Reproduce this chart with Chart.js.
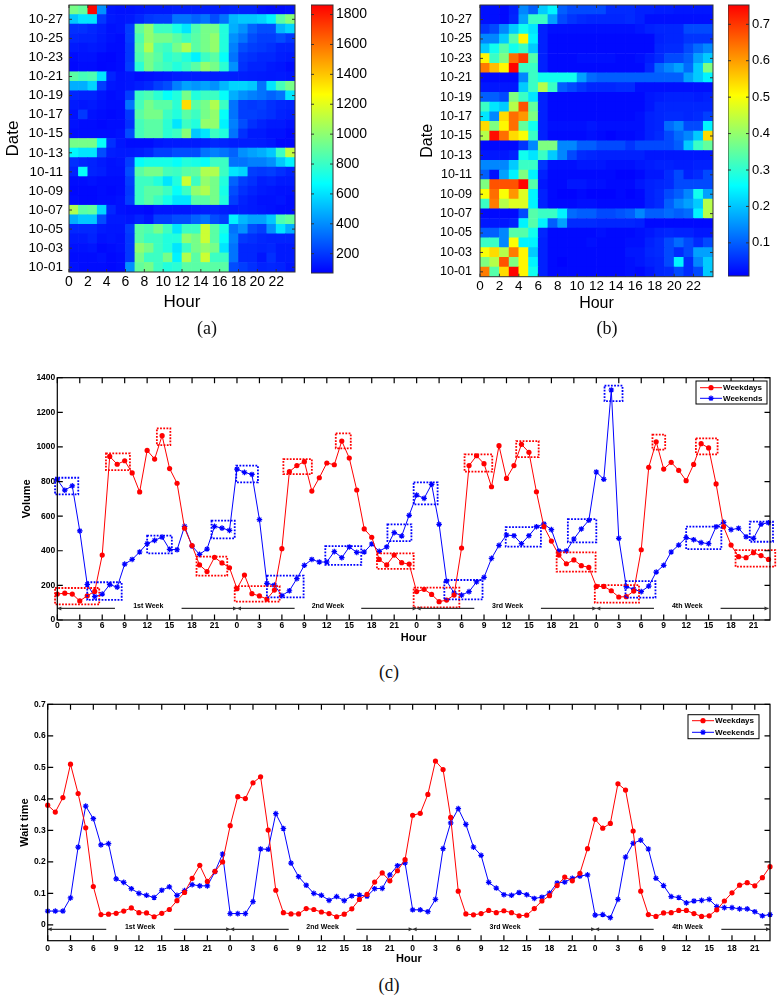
<!DOCTYPE html>
<html>
<head>
<meta charset="utf-8">
<title>Volume and wait time by hour</title>
<script src="https://cdn.jsdelivr.net/npm/chart.js"></script>
<style>
  html, body { margin: 0; padding: 0; background: #fff; }
  body { width: 778px; height: 1000px; position: relative; overflow: hidden; }
  .box { position: absolute; }
  .cap { position: absolute; transform: translate(-50%, -50%); font-family: "Liberation Serif", "DejaVu Serif", serif; font-size: 18px; color: #111; }
</style>
</head>
<body>
<div class="box" style="left:0;top:0;width:305px;height:318px"><canvas id="heat-volume"></canvas></div>
<div class="box" style="left:311px;top:0;width:70px;height:318px"><canvas id="bar-volume"></canvas></div>
<div class="box" style="left:414px;top:0;width:305px;height:320px"><canvas id="heat-wait"></canvas></div>
<div class="box" style="left:728px;top:0;width:50px;height:320px"><canvas id="bar-wait"></canvas></div>
<div class="box" style="left:0;top:365px;width:778px;height:285px"><canvas id="line-volume"></canvas></div>
<div class="box" style="left:0;top:690px;width:778px;height:280px"><canvas id="line-wait"></canvas></div>
<div class="cap" style="left:207px;top:328px">(a)</div>
<div class="cap" style="left:607px;top:328px">(b)</div>
<div class="cap" style="left:389px;top:672px">(c)</div>
<div class="cap" style="left:389px;top:985px">(d)</div>

<script>
const FONT = "'Liberation Sans', Arial, Helvetica, sans-serif";
Chart.defaults.font.family = FONT;
Chart.defaults.color = "#000";

// ---- heatmap data (rows 10-01 .. 10-28, columns hour 0..23) ----
const dates = ["10-01", "10-02", "10-03", "10-04", "10-05", "10-06", "10-07",
  "10-08", "10-09", "10-10", "10-11", "10-12", "10-13", "10-14",
  "10-15", "10-16", "10-17", "10-18", "10-19", "10-20", "10-21",
  "10-22", "10-23", "10-24", "10-25", "10-26", "10-27", "10-28"];
const hours = [0, 1, 2, 3, 4, 5, 6, 7, 8, 9, 10, 11, 12, 13, 14, 15, 16, 17, 18, 19, 20, 21, 22, 23];

const volumeByDay = [
  [110, 100, 100, 100, 90, 100, 410, 900, 945, 810, 745, 770, 880, 880, 880, 880, 880, 250, 215, 180, 150, 160, 150, 120],
  [100, 100, 100, 110, 90, 100, 200, 945, 810, 810, 945, 640, 1080, 880, 1145, 810, 810, 340, 160, 160, 120, 180, 130, 130],
  [110, 110, 120, 90, 100, 110, 200, 1010, 945, 810, 745, 610, 810, 945, 1010, 945, 610, 340, 160, 160, 150, 160, 130, 130],
  [130, 130, 150, 110, 120, 110, 200, 880, 810, 810, 745, 745, 1010, 945, 1145, 880, 680, 370, 200, 180, 160, 150, 150, 150],
  [160, 160, 160, 130, 120, 120, 215, 880, 850, 945, 810, 610, 810, 810, 1145, 880, 720, 340, 410, 250, 215, 410, 610, 480],
  [480, 540, 540, 250, 130, 130, 120, 150, 120, 215, 215, 250, 250, 300, 340, 250, 215, 640, 500, 450, 450, 540, 850, 900],
  [1080, 880, 900, 570, 160, 110, 100, 100, 90, 120, 120, 120, 120, 135, 140, 150, 140, 130, 140, 130, 120, 110, 100, 100],
  [100, 90, 90, 100, 100, 110, 215, 810, 880, 810, 720, 610, 610, 880, 880, 945, 745, 215, 150, 130, 110, 110, 120, 100],
  [90, 90, 90, 100, 90, 100, 200, 810, 880, 880, 810, 680, 810, 1010, 1080, 945, 720, 250, 180, 150, 130, 120, 110, 110],
  [100, 100, 110, 100, 100, 100, 215, 810, 810, 745, 610, 745, 1145, 810, 1010, 945, 745, 300, 215, 180, 140, 150, 130, 130],
  [150, 680, 150, 140, 110, 110, 250, 880, 945, 945, 830, 810, 880, 900, 1080, 1080, 810, 610, 570, 215, 200, 215, 180, 150],
  [180, 160, 150, 130, 110, 120, 215, 680, 720, 720, 720, 680, 745, 720, 680, 810, 810, 340, 340, 370, 370, 410, 540, 640],
  [650, 610, 610, 250, 140, 130, 130, 140, 160, 215, 215, 250, 250, 250, 340, 370, 340, 300, 410, 450, 480, 540, 810, 1120],
  [945, 945, 945, 680, 180, 120, 100, 100, 100, 120, 130, 130, 130, 130, 140, 160, 150, 140, 140, 140, 135, 120, 90, 90],
  [100, 100, 100, 100, 100, 110, 250, 830, 880, 880, 770, 810, 985, 540, 610, 810, 745, 340, 180, 130, 130, 110, 110, 90],
  [110, 100, 100, 90, 100, 100, 180, 830, 880, 880, 770, 610, 810, 745, 1010, 1010, 640, 370, 250, 180, 150, 130, 130, 110],
  [110, 200, 110, 100, 90, 100, 200, 880, 945, 945, 810, 745, 880, 810, 945, 1010, 680, 340, 215, 215, 200, 180, 150, 140],
  [130, 120, 130, 110, 100, 100, 340, 830, 945, 880, 880, 770, 1345, 880, 945, 1080, 810, 340, 215, 200, 215, 180, 160, 150],
  [160, 150, 150, 120, 100, 110, 215, 810, 850, 770, 680, 745, 945, 745, 810, 810, 680, 480, 410, 370, 340, 300, 340, 610],
  [480, 480, 570, 215, 120, 110, 120, 140, 160, 215, 250, 370, 450, 420, 450, 410, 500, 570, 570, 540, 340, 610, 830, 945],
  [880, 830, 850, 610, 150, 110, 120, 100, 105, 115, 120, 135, 140, 140, 140, 135, 140, 140, 140, 135, 130, 125, 130, 120],
  [90, 100, 100, 85, 90, 100, 215, 770, 945, 850, 810, 745, 810, 880, 1010, 945, 770, 410, 180, 150, 150, 130, 120, 100],
  [100, 110, 110, 90, 85, 100, 200, 850, 945, 880, 770, 810, 745, 640, 810, 880, 680, 340, 200, 180, 160, 160, 140, 130],
  [130, 120, 130, 120, 100, 100, 200, 880, 1080, 850, 810, 945, 1080, 880, 945, 1010, 745, 370, 250, 215, 200, 180, 150, 150],
  [160, 150, 150, 130, 110, 100, 215, 850, 1010, 945, 945, 880, 810, 880, 945, 1010, 745, 410, 340, 250, 215, 215, 250, 200],
  [180, 180, 160, 140, 110, 120, 215, 900, 1010, 810, 810, 720, 610, 850, 945, 945, 745, 480, 410, 300, 250, 250, 500, 570],
  [540, 610, 610, 200, 130, 120, 130, 160, 200, 215, 215, 340, 340, 300, 340, 250, 340, 500, 540, 540, 570, 640, 880, 985],
  [945, 900, 1850, 410, 120, 110, 110, 120, 130, 130, 130, 140, 140, 140, 140, 140, 140, 150, 150, 150, 110, 100, 100, 110],
];

const waitByDay = [
  [0.633, 0.34, 0.54, 0.75, 0.513, 0.273, 0.04, 0.018, 0.018, 0.018, 0.018, 0.018, 0.018, 0.018, 0.018, 0.024, 0.018, 0.03, 0.045, 0.05, 0.08, 0.05, 0.08, 0.206],
  [0.38, 0.433, 0.673, 0.38, 0.513, 0.246, 0.04, 0.018, 0.012, 0.018, 0.018, 0.018, 0.018, 0.018, 0.018, 0.024, 0.03, 0.04, 0.045, 0.08, 0.246, 0.05, 0.14, 0.206],
  [0.5, 0.54, 0.433, 0.633, 0.513, 0.206, 0.04, 0.018, 0.018, 0.018, 0.018, 0.018, 0.018, 0.018, 0.018, 0.03, 0.03, 0.045, 0.05, 0.08, 0.05, 0.08, 0.166, 0.166],
  [0.313, 0.313, 0.14, 0.5, 0.246, 0.246, 0.04, 0.018, 0.018, 0.018, 0.018, 0.024, 0.018, 0.018, 0.018, 0.024, 0.024, 0.04, 0.05, 0.08, 0.113, 0.08, 0.05, 0.08],
  [0.1, 0.1, 0.14, 0.34, 0.34, 0.273, 0.045, 0.018, 0.018, 0.018, 0.018, 0.018, 0.024, 0.018, 0.018, 0.018, 0.024, 0.03, 0.04, 0.045, 0.04, 0.04, 0.03, 0.03],
  [0.03, 0.03, 0.03, 0.04, 0.246, 0.34, 0.246, 0.1, 0.166, 0.05, 0.05, 0.05, 0.045, 0.045, 0.045, 0.045, 0.04, 0.018, 0.018, 0.018, 0.018, 0.018, 0.018, 0.018],
  [0.018, 0.018, 0.018, 0.018, 0.08, 0.34, 0.313, 0.313, 0.246, 0.113, 0.1, 0.1, 0.08, 0.08, 0.09, 0.1, 0.14, 0.1, 0.1, 0.113, 0.1, 0.113, 0.246, 0.433],
  [0.313, 0.633, 0.433, 0.473, 0.473, 0.246, 0.04, 0.018, 0.018, 0.018, 0.024, 0.024, 0.018, 0.018, 0.018, 0.018, 0.018, 0.04, 0.05, 0.1, 0.14, 0.166, 0.206, 0.433],
  [0.5, 0.646, 0.5, 0.606, 0.473, 0.246, 0.04, 0.018, 0.012, 0.012, 0.018, 0.012, 0.012, 0.012, 0.018, 0.012, 0.018, 0.04, 0.05, 0.08, 0.1, 0.14, 0.273, 0.166],
  [0.38, 0.673, 0.673, 0.673, 0.75, 0.34, 0.03, 0.018, 0.018, 0.03, 0.03, 0.024, 0.024, 0.018, 0.018, 0.018, 0.03, 0.04, 0.045, 0.05, 0.08, 0.08, 0.08, 0.08],
  [0.1, 0.024, 0.166, 0.246, 0.38, 0.246, 0.04, 0.018, 0.018, 0.018, 0.018, 0.018, 0.018, 0.018, 0.012, 0.012, 0.018, 0.03, 0.03, 0.05, 0.08, 0.04, 0.05, 0.08],
  [0.14, 0.14, 0.14, 0.206, 0.313, 0.313, 0.06, 0.024, 0.024, 0.024, 0.03, 0.03, 0.03, 0.024, 0.024, 0.024, 0.03, 0.035, 0.04, 0.04, 0.035, 0.035, 0.04, 0.04],
  [0.03, 0.03, 0.03, 0.04, 0.273, 0.233, 0.313, 0.206, 0.14, 0.08, 0.05, 0.045, 0.04, 0.04, 0.04, 0.04, 0.04, 0.03, 0.03, 0.03, 0.03, 0.03, 0.03, 0.03],
  [0.018, 0.018, 0.018, 0.018, 0.06, 0.14, 0.38, 0.38, 0.14, 0.14, 0.1, 0.1, 0.08, 0.08, 0.08, 0.06, 0.08, 0.08, 0.08, 0.08, 0.1, 0.206, 0.313, 0.353],
  [0.433, 0.74, 0.646, 0.54, 0.5, 0.313, 0.04, 0.018, 0.018, 0.018, 0.018, 0.024, 0.018, 0.012, 0.018, 0.018, 0.024, 0.04, 0.05, 0.08, 0.113, 0.14, 0.206, 0.54],
  [0.54, 0.38, 0.513, 0.646, 0.353, 0.273, 0.04, 0.024, 0.024, 0.024, 0.024, 0.03, 0.024, 0.024, 0.024, 0.024, 0.024, 0.04, 0.045, 0.113, 0.14, 0.08, 0.08, 0.246],
  [0.233, 0.14, 0.54, 0.646, 0.606, 0.38, 0.04, 0.018, 0.018, 0.018, 0.018, 0.018, 0.018, 0.018, 0.018, 0.018, 0.024, 0.04, 0.045, 0.05, 0.05, 0.045, 0.05, 0.07],
  [0.313, 0.233, 0.206, 0.433, 0.673, 0.353, 0.04, 0.018, 0.018, 0.018, 0.018, 0.018, 0.018, 0.018, 0.018, 0.018, 0.018, 0.03, 0.045, 0.045, 0.045, 0.045, 0.045, 0.045],
  [0.1, 0.1, 0.08, 0.38, 0.313, 0.233, 0.04, 0.018, 0.018, 0.018, 0.018, 0.018, 0.018, 0.018, 0.018, 0.018, 0.018, 0.03, 0.035, 0.04, 0.04, 0.04, 0.035, 0.04],
  [0.03, 0.03, 0.03, 0.03, 0.206, 0.313, 0.433, 0.313, 0.1, 0.08, 0.06, 0.045, 0.045, 0.045, 0.05, 0.05, 0.024, 0.024, 0.024, 0.024, 0.024, 0.024, 0.024, 0.024],
  [0.018, 0.018, 0.018, 0.018, 0.14, 0.313, 0.273, 0.273, 0.273, 0.273, 0.166, 0.113, 0.1, 0.1, 0.1, 0.1, 0.1, 0.1, 0.1, 0.1, 0.1, 0.166, 0.206, 0.246],
  [0.633, 0.569, 0.513, 0.75, 0.313, 0.313, 0.04, 0.018, 0.018, 0.018, 0.018, 0.018, 0.018, 0.018, 0.018, 0.018, 0.018, 0.045, 0.113, 0.14, 0.166, 0.113, 0.206, 0.38],
  [0.513, 0.313, 0.38, 0.646, 0.7, 0.34, 0.04, 0.018, 0.018, 0.018, 0.024, 0.024, 0.024, 0.024, 0.018, 0.018, 0.024, 0.035, 0.05, 0.08, 0.08, 0.1, 0.166, 0.206],
  [0.206, 0.273, 0.34, 0.273, 0.313, 0.206, 0.04, 0.018, 0.018, 0.018, 0.018, 0.018, 0.018, 0.018, 0.018, 0.018, 0.018, 0.018, 0.045, 0.05, 0.05, 0.08, 0.113, 0.14],
  [0.14, 0.14, 0.206, 0.34, 0.513, 0.246, 0.04, 0.018, 0.018, 0.018, 0.018, 0.018, 0.018, 0.018, 0.018, 0.018, 0.018, 0.018, 0.04, 0.045, 0.045, 0.06, 0.06, 0.06],
  [0.06, 0.08, 0.14, 0.206, 0.273, 0.233, 0.04, 0.024, 0.024, 0.024, 0.024, 0.024, 0.024, 0.024, 0.024, 0.024, 0.03, 0.04, 0.045, 0.045, 0.045, 0.08, 0.08, 0.08],
  [0.024, 0.024, 0.018, 0.045, 0.166, 0.313, 0.313, 0.166, 0.08, 0.06, 0.05, 0.045, 0.045, 0.045, 0.045, 0.05, 0.04, 0.024, 0.024, 0.024, 0.024, 0.024, 0.024, 0.024],
  [0.024, 0.024, 0.018, 0.04, 0.14, 0.1, 0.206, 0.246, 0.1, 0.08, 0.08, 0.08, 0.08, 0.05, 0.05, 0.05, 0.04, 0.04, 0.035, 0.035, 0.03, 0.03, 0.03, 0.03],
];

const volumeRange = [71, 1864];
const waitRange = [0.009, 0.753];
const volumeBarTicks = [200, 400, 600, 800, 1000, 1200, 1400, 1600, 1800];
const waitBarTicks = [0.1, 0.2, 0.3, 0.4, 0.5, 0.6, 0.7];

// ---- hourly series over four weeks (96 points each) ----
const volumeWeekdays = [
  150, 155, 150, 110, 140, 165, 375, 945, 900, 920, 850, 740, 980, 930, 1065, 875, 790, 530, 430, 318, 280, 362, 330, 302,
  181, 260, 152, 139, 121, 173, 412, 857, 892, 915, 745, 822, 907, 897, 1034, 936, 751, 526, 478, 350, 318, 375, 331, 323,
  164, 177, 148, 106, 115, 144, 416, 892, 949, 903, 770, 1007, 818, 892, 1015, 969, 741, 539, 456, 375, 325, 347, 314, 304,
  194, 194, 169, 133, 135, 167, 406, 882, 1030, 872, 911, 865, 805, 899, 1019, 994, 786, 539, 433, 366, 360, 389, 372, 350];
const volumeWeekends = [
  810, 750, 775, 515, 205, 135, 150, 204, 190, 323, 350, 393, 441, 460, 479, 408, 406, 541, 427, 379, 410, 541, 531, 518,
  872, 853, 841, 580, 212, 202, 141, 169, 239, 316, 350, 335, 335, 395, 360, 422, 391, 393, 439, 397, 422, 505, 485, 605,
  722, 703, 784, 553, 225, 156, 144, 164, 220, 246, 356, 431, 491, 487, 441, 487, 539, 555, 522, 399, 399, 468, 526, 576,
  855, 813, 1329, 472, 193, 177, 164, 196, 277, 316, 393, 433, 476, 464, 447, 441, 539, 564, 522, 530, 481, 472, 553, 562];
const waitWeekdays = [
  0.380, 0.358, 0.404, 0.510, 0.417, 0.308, 0.122, 0.033, 0.034, 0.037, 0.044, 0.054, 0.039, 0.038, 0.026, 0.037, 0.049, 0.077, 0.103, 0.148, 0.189, 0.138, 0.170, 0.200,
  0.315, 0.407, 0.401, 0.451, 0.470, 0.301, 0.110, 0.039, 0.035, 0.035, 0.052, 0.049, 0.041, 0.036, 0.026, 0.034, 0.051, 0.081, 0.097, 0.136, 0.165, 0.140, 0.172, 0.207,
  0.348, 0.354, 0.414, 0.520, 0.493, 0.341, 0.107, 0.035, 0.032, 0.036, 0.046, 0.039, 0.045, 0.039, 0.029, 0.031, 0.052, 0.076, 0.093, 0.125, 0.152, 0.140, 0.164, 0.242,
  0.335, 0.307, 0.322, 0.448, 0.428, 0.298, 0.107, 0.033, 0.027, 0.038, 0.039, 0.046, 0.046, 0.036, 0.027, 0.029, 0.048, 0.076, 0.102, 0.126, 0.134, 0.124, 0.150, 0.185];
const waitWeekends = [
  0.044, 0.044, 0.044, 0.086, 0.247, 0.377, 0.337, 0.254, 0.258, 0.146, 0.135, 0.115, 0.100, 0.094, 0.087, 0.110, 0.121, 0.094, 0.109, 0.128, 0.124, 0.124, 0.169, 0.225,
  0.036, 0.036, 0.036, 0.074, 0.241, 0.240, 0.353, 0.306, 0.196, 0.153, 0.126, 0.100, 0.094, 0.078, 0.090, 0.077, 0.092, 0.095, 0.091, 0.115, 0.116, 0.159, 0.188, 0.197,
  0.048, 0.048, 0.042, 0.081, 0.242, 0.324, 0.369, 0.319, 0.247, 0.221, 0.135, 0.117, 0.096, 0.094, 0.103, 0.096, 0.084, 0.088, 0.101, 0.133, 0.136, 0.148, 0.155, 0.159,
  0.031, 0.033, 0.023, 0.081, 0.215, 0.259, 0.269, 0.241, 0.148, 0.125, 0.090, 0.087, 0.070, 0.076, 0.078, 0.081, 0.058, 0.055, 0.055, 0.051, 0.051, 0.042, 0.029, 0.033];

const volumeTicks = [0, 200, 400, 600, 800, 1000, 1200, 1400];
const waitTicks = [0, 0.1, 0.2, 0.3, 0.4, 0.5, 0.6, 0.7];
const weekLabels = ["1st Week", "2nd Week", "3rd Week", "4th Week"];
const weekBounds = [0, 24, 48, 72, 95];

// highlighted ranges in (c): [hour from, hour to, volume from, volume to]
const volumeWeekdayBoxes = [
  [-0.3, 5.6, 90, 185], [6.5, 9.7, 866, 963], [13.3, 15.1, 1010, 1107], [18.6, 22.7, 256, 366],
  [23.7, 29.7, 106, 196], [30.2, 34, 843, 930], [37.2, 39.2, 992, 1078], [42.7, 47.6, 295, 385],
  [47.6, 53.7, 73, 187], [54.4, 58.1, 857, 957], [61.3, 64.3, 941, 1034], [66.7, 71.9, 279, 391],
  [71.8, 77.7, 100, 202], [79.5, 81.2, 984, 1071], [85.3, 88.2, 957, 1050], [90.6, 95.9, 308, 404]];
const volumeWeekendBoxes = [
  [-0.3, 2.8, 726, 822], [4.0, 8.6, 116, 218], [12, 15.3, 385, 487], [20.6, 23.7, 472, 574],
  [23.9, 26.8, 795, 892], [28, 32.9, 131, 256], [35.8, 40.6, 318, 427], [44.1, 47.3, 456, 553],
  [47.6, 50.8, 668, 795], [51.7, 56.8, 119, 231], [59.9, 64.6, 424, 537], [68.2, 72, 449, 583],
  [73.1, 75.5, 1265, 1354], [75.9, 79.9, 129, 225], [84, 88.7, 410, 539], [92.5, 95.6, 452, 568]];

// jet colormap, blue at the bottom of the range and red at the top
function jet(u) {
  const c = (v) => Math.round(255 * Math.min(1, Math.max(0, v)));
  const t = 0.125 + 0.75 * Math.min(1, Math.max(0, u));
  return `rgb(${c(1.5 - Math.abs(4 * t - 3))},${c(1.5 - Math.abs(4 * t - 2))},${c(1.5 - Math.abs(4 * t - 1))})`;
}

// no label padding from the scales, the layout padding decides
function fixSize(prop, size) {
  return (s) => {
    s[prop] = size;
    s.paddingTop = 0; s.paddingBottom = 0; s.paddingLeft = 0; s.paddingRight = 0;
  };
}

// box round the plot area plus inward tick marks on all sides
function framePlugin(tickLength, lineWidth, color) {
  return {
    id: "frame",
    afterDraw(chart) {
      const { ctx, chartArea: a } = chart;
      ctx.save();
      ctx.strokeStyle = color;
      ctx.lineWidth = lineWidth;
      ctx.beginPath();
      Object.values(chart.scales).forEach((scale) => {
        if (scale.options.display === false) return;
        scale.ticks.forEach((t) => {
          const p = scale.getPixelForValue(t.value);
          if (scale.isHorizontal()) {
            ctx.moveTo(p, a.bottom); ctx.lineTo(p, a.bottom - tickLength);
            ctx.moveTo(p, a.top); ctx.lineTo(p, a.top + tickLength);
          } else {
            ctx.moveTo(a.left, p); ctx.lineTo(a.left + tickLength, p);
            ctx.moveTo(a.right, p); ctx.lineTo(a.right - tickLength, p);
          }
        });
      });
      ctx.stroke();
      ctx.strokeRect(a.left, a.top, a.right - a.left, a.bottom - a.top);
      ctx.restore();
    },
  };
}

const noGrid = { display: false, drawTicks: false };

function buildHeatmap(id, grid, range, cfg) {
  const [lo, hi] = range;
  const datasets = grid.map((row, r) => ({
    data: row.map((v, h) => ({ x: hours[h] + 0.5, y: [r, r + 1] })),
    backgroundColor: row.map((v) => jet((v - lo) / (hi - lo))),
  }));

  return new Chart(document.getElementById(id), {
    type: "bar",
    data: { datasets },
    options: {
      animation: false,
      responsive: true,
      maintainAspectRatio: false,
      events: [],
      layout: { padding: cfg.padding },
      datasets: { bar: { grouped: false, barPercentage: 1, categoryPercentage: 1, borderWidth: 0 } },
      scales: {
        x: {
          type: "linear", min: 0, max: hours.length, offset: false,
          grid: noGrid, border: { display: false },
          afterBuildTicks: (s) => { s.ticks = hours.filter((h) => h % 2 === 0).map((h) => ({ value: h })); },
          ticks: { autoSkip: false, maxRotation: 0, padding: cfg.xPad, font: { size: cfg.xTick }, callback: (v) => String(v) },
          title: { display: true, text: "Hour", font: { size: cfg.title }, padding: { top: 0, bottom: cfg.xTitlePad } },
          afterFit: fixSize("height", cfg.xHeight),
        },
        y: {
          type: "linear", min: 0, max: dates.length,
          grid: noGrid, border: { display: false },
          afterBuildTicks: (s) => {
            s.ticks = dates.map((d, i) => i).filter((i) => i % 2 === 0).map((i) => ({ value: i + 0.5 }));
          },
          ticks: { autoSkip: false, padding: cfg.yPad, font: { size: cfg.yTick }, callback: (v) => dates[Math.floor(v)] },
          title: { display: true, text: "Date", font: { size: cfg.title }, padding: { top: cfg.yTitlePad, bottom: 0 } },
          afterFit: fixSize("width", cfg.yWidth),
        },
      },
      plugins: { legend: { display: false }, tooltip: { enabled: false } },
    },
    plugins: [framePlugin(3, 1, "#333")],
  });
}

function buildColorbar(id, range, ticks, cfg) {
  const [lo, hi] = range;
  const fill = (c) => {
    const area = c.chart.chartArea;
    if (!area) return "#00f";
    const g = c.chart.ctx.createLinearGradient(0, area.bottom, 0, area.top);
    for (let k = 0; k <= 12; k++) g.addColorStop(k / 12, jet(k / 12));
    return g;
  };

  return new Chart(document.getElementById(id), {
    type: "bar",
    data: { labels: [""], datasets: [{ data: [[lo, hi]], backgroundColor: fill, borderWidth: 0 }] },
    options: {
      animation: false,
      responsive: true,
      maintainAspectRatio: false,
      events: [],
      layout: { padding: cfg.padding },
      datasets: { bar: { barPercentage: 1, categoryPercentage: 1 } },
      scales: {
        x: { display: false },
        y: {
          position: "right", min: lo, max: hi,
          grid: noGrid, border: { display: false },
          afterBuildTicks: (s) => { s.ticks = ticks.map((v) => ({ value: v })); },
          ticks: { padding: cfg.pad, font: { size: cfg.size }, callback: (v) => String(v) },
          afterFit: fixSize("width", cfg.width),
        },
      },
      plugins: { legend: { display: false }, tooltip: { enabled: false } },
    },
    plugins: [framePlugin(3, 1, "#333")],
  });
}

// dotted rectangles drawn in data coordinates
function boxPlugin(sets) {
  return {
    id: "boxes",
    afterDatasetsDraw(chart) {
      const { ctx } = chart;
      const xs = chart.scales.x;
      const ys = chart.scales.y;
      ctx.save();
      ctx.lineWidth = 1.8;
      ctx.setLineDash([1.8, 1.4]);
      sets.forEach(({ boxes, color }) => {
        ctx.strokeStyle = color;
        boxes.forEach(([x0, x1, y0, y1]) => {
          const l = xs.getPixelForValue(x0);
          const r = xs.getPixelForValue(x1);
          const t = ys.getPixelForValue(y1);
          const b = ys.getPixelForValue(y0);
          ctx.strokeRect(l, t, r - l, b - t);
        });
      });
      ctx.restore();
    },
  };
}

// week spans with arrows along the bottom of the line charts
function weekPlugin(level, labelDy) {
  const head = (ctx, x, y, dir) => {
    ctx.beginPath();
    ctx.moveTo(x, y);
    ctx.lineTo(x - dir * 4, y - 2);
    ctx.lineTo(x - dir * 4, y + 2);
    ctx.closePath();
    ctx.fill();
  };
  return {
    id: "weeks",
    afterDatasetsDraw(chart) {
      const { ctx } = chart;
      const xs = chart.scales.x;
      const y = chart.scales.y.getPixelForValue(level);
      ctx.save();
      ctx.strokeStyle = "#333";
      ctx.fillStyle = "#333";
      ctx.lineWidth = 1.2;
      ctx.font = `bold 7px ${FONT}`;
      ctx.textAlign = "center";
      ctx.textBaseline = "middle";
      weekLabels.forEach((label, k) => {
        const x0 = xs.getPixelForValue(weekBounds[k]);
        const x1 = xs.getPixelForValue(weekBounds[k + 1]);
        const gl = xs.getPixelForValue(weekBounds[k] + 7.7);
        const gr = xs.getPixelForValue(weekBounds[k] + 16.6);
        ctx.beginPath();
        ctx.moveTo(x0, y); ctx.lineTo(gl, y);
        ctx.moveTo(gr, y); ctx.lineTo(x1, y);
        ctx.stroke();
        head(ctx, x0, y, -1);
        head(ctx, x1, y, 1);
        ctx.fillStyle = "#000";
        ctx.fillText(label, (gl + gr) / 2, y + labelDy);
        ctx.fillStyle = "#333";
      });
      ctx.restore();
    },
  };
}

function drawMarker(ctx, style, x, y, r) {
  ctx.beginPath();
  if (style === "circle") {
    ctx.arc(x, y, r, 0, Math.PI * 2);
    ctx.fill();
    return;
  }
  const d = r * Math.SQRT1_2;
  ctx.moveTo(x - r, y); ctx.lineTo(x + r, y);
  ctx.moveTo(x, y - r); ctx.lineTo(x, y + r);
  ctx.moveTo(x - d, y - d); ctx.lineTo(x + d, y + d);
  ctx.moveTo(x - d, y + d); ctx.lineTo(x + d, y - d);
  ctx.stroke();
}

// boxed legend in the top right corner of the plot
function keyPlugin(pos) {
  return {
    id: "key",
    afterDraw(chart) {
      const { ctx, chartArea: a } = chart;
      const x = a.right - pos.right - pos.width;
      const y = a.top + pos.top;
      ctx.save();
      ctx.fillStyle = "#fff";
      ctx.fillRect(x, y, pos.width, pos.height);
      ctx.strokeStyle = "#000";
      ctx.lineWidth = 1;
      ctx.strokeRect(x, y, pos.width, pos.height);
      ctx.font = `bold 8px ${FONT}`;
      ctx.textAlign = "left";
      ctx.textBaseline = "middle";
      chart.data.datasets.forEach((ds, k) => {
        const ry = y + pos.rows[k];
        ctx.strokeStyle = ds.borderColor;
        ctx.fillStyle = ds.borderColor;
        ctx.lineWidth = 1;
        ctx.beginPath();
        ctx.moveTo(x + 4, ry); ctx.lineTo(x + 26, ry);
        ctx.stroke();
        ctx.lineWidth = 1.2;
        drawMarker(ctx, ds.pointStyle, x + 15, ry, ds.pointStyle === "circle" ? 2.6 : 2.8);
        ctx.fillStyle = "#000";
        ctx.fillText(ds.label, x + 27, ry + 0.5);
      });
      ctx.restore();
    },
  };
}

function buildLine(id, weekdays, weekends, cfg) {
  const points = (arr) => arr.map((v, i) => ({ x: i, y: v }));
  const tickFont = { size: 8.5, weight: "bold" };
  const titleFont = { size: 11, weight: "bold" };

  return new Chart(document.getElementById(id), {
    type: "line",
    data: {
      datasets: [
        {
          label: "Weekdays", data: points(weekdays),
          borderColor: "#ff0000", backgroundColor: "#ff0000", borderWidth: 1,
          pointStyle: "circle", pointRadius: 2.6, pointBorderWidth: 0, clip: false,
        },
        {
          label: "Weekends", data: points(weekends),
          borderColor: "#0000ff", backgroundColor: "#0000ff", borderWidth: 1,
          pointStyle: "star", pointRadius: 2.8, pointBorderWidth: 1.2, clip: false,
        },
      ],
    },
    options: {
      animation: false,
      responsive: true,
      maintainAspectRatio: false,
      events: [],
      layout: { padding: cfg.padding },
      scales: {
        x: {
          type: "linear", min: 0, max: cfg.xMax,
          grid: noGrid, border: { display: false },
          afterBuildTicks: (s) => {
            s.ticks = weekdays.map((v, i) => i).filter((i) => i % 3 === 0).map((i) => ({ value: i }));
          },
          ticks: { autoSkip: false, maxRotation: 0, padding: cfg.xPad, font: tickFont, callback: (v) => String(v % 24) },
          title: { display: true, text: "Hour", font: titleFont, padding: { top: 0, bottom: cfg.xTitlePad } },
          afterFit: fixSize("height", cfg.xHeight),
        },
        y: {
          type: "linear", min: cfg.yMin, max: cfg.yMax,
          grid: noGrid, border: { display: false },
          afterBuildTicks: (s) => { s.ticks = cfg.yTicks.map((v) => ({ value: v })); },
          ticks: { padding: 2, font: tickFont, callback: (v) => String(v) },
          title: { display: true, text: cfg.yTitle, font: titleFont, padding: { top: cfg.yTitlePad, bottom: 0 } },
          afterFit: fixSize("width", cfg.yWidth),
        },
      },
      plugins: { legend: { display: false }, tooltip: { enabled: false } },
    },
    plugins: [framePlugin(5.5, 1.2, "#000"), ...cfg.extra, keyPlugin(cfg.key)],
  });
}

// (a) volume heatmap
buildHeatmap("heat-volume", volumeByDay, volumeRange, {
  padding: { top: 5, right: 10, left: 0, bottom: 0 },
  xTick: 14, yTick: 13.5, title: 17,
  xPad: 2, yPad: 6, xTitlePad: 5.8, yTitlePad: 3,
  xHeight: 46, yWidth: 69,
});
buildColorbar("bar-volume", volumeRange, volumeBarTicks, {
  padding: { top: 5, right: 0, left: 0, bottom: 45 }, pad: 3, size: 14, width: 48,
});

// (b) wait time heatmap
buildHeatmap("heat-wait", waitByDay, waitRange, {
  padding: { top: 5, right: 6, left: 0, bottom: 0 },
  xTick: 13.5, yTick: 12.5, title: 16,
  xPad: 1, yPad: 8, xTitlePad: 6.4, yTitlePad: 4.4,
  xHeight: 43.3, yWidth: 66,
});
buildColorbar("bar-wait", waitRange, waitBarTicks, {
  padding: { top: 5, right: 0, left: 0, bottom: 44 }, pad: 3, size: 13, width: 29,
});

// (c) hourly volume over four weeks
buildLine("line-volume", volumeWeekdays, volumeWeekends, {
  padding: { top: 12.7, right: 8, left: 0, bottom: 0 },
  xMax: 95.2, yMin: 0, yMax: 1400, yTicks: volumeTicks, yTitle: "Volume",
  xPad: 1, xTitlePad: 5.7, yTitlePad: 20, xHeight: 30, yWidth: 57.3,
  key: { right: 3, top: 3.3, width: 71, height: 23, rows: [6.7, 17.3] },
  extra: [
    boxPlugin([
      { boxes: volumeWeekdayBoxes, color: "#ff0000" },
      { boxes: volumeWeekendBoxes, color: "#0000ff" },
    ]),
    weekPlugin(67, -2.6),
  ],
});

// (d) hourly wait time over four weeks
buildLine("line-wait", waitWeekdays, waitWeekends, {
  padding: { top: 14.3, right: 8, left: 0, bottom: 0 },
  xMax: 95, yMin: -0.05, yMax: 0.7, yTicks: waitTicks, yTitle: "Wait time",
  xPad: 2.5, xTitlePad: 4.4, yTitlePad: 18.4, xHeight: 29.3, yWidth: 47.7,
  key: { right: 11, top: 10.4, width: 71, height: 24, rows: [6, 17.6] },
  extra: [weekPlugin(-0.014, -2.3)],
});
</script>
</body>
</html>
